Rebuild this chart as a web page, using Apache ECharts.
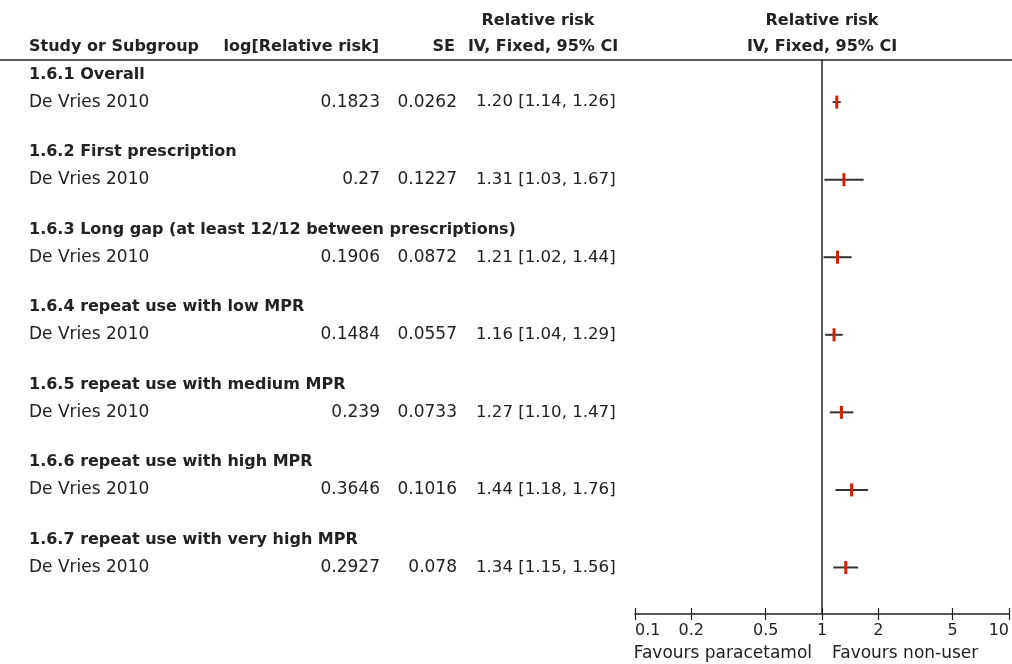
<!DOCTYPE html>
<html>
<head>
<meta charset="utf-8">
<script src="https://cdn.jsdelivr.net/npm/echarts@6/dist/echarts.min.js"></script>
<style>
html,body{margin:0;padding:0;background:#fff;}
#chart{width:1012px;height:664px;}
</style>
</head>
<body>
<div id="chart"></div>
<script>
// ---- data ----
const subgroups = [
  '1.6.1 Overall',
  '1.6.2 First prescription',
  '1.6.3 Long gap (at least 12/12 between prescriptions)',
  '1.6.4 repeat use with low MPR',
  '1.6.5 repeat use with medium MPR',
  '1.6.6 repeat use with high MPR',
  '1.6.7 repeat use with very high MPR'
];
const studies = ['De Vries 2010','De Vries 2010','De Vries 2010','De Vries 2010','De Vries 2010','De Vries 2010','De Vries 2010'];
const logRR = [0.1823, 0.27, 0.1906, 0.1484, 0.239, 0.3646, 0.2927];
const se = [0.0262, 0.1227, 0.0872, 0.0557, 0.0733, 0.1016, 0.078];
const rr = [1.20, 1.31, 1.21, 1.16, 1.27, 1.44, 1.34];
const lower = [1.14, 1.03, 1.02, 1.04, 1.10, 1.18, 1.15];
const upper = [1.26, 1.67, 1.44, 1.29, 1.47, 1.76, 1.56];
const xTicks = [0.1, 0.2, 0.5, 1, 2, 5, 10];
const leftLabel = 'Favours paracetamol';
const rightLabel = 'Favours non-user';

// ---- layout (row units on hidden y axis) ----
const FIRST = 0.52, STEP = 2.8, STUDY_OFF = 1.0, YMAX = 20;
const FONT = 'DejaVu Sans';
const TXT = '#222';

const headerY = subgroups.map((s, i) => FIRST + i * STEP);
const studyY = subgroups.map((s, i) => FIRST + i * STEP + STUDY_OFF);

const tableData = [];
subgroups.forEach((s, i) => {
  tableData.push({value: [1, headerY[i]], kind: 'h', idx: i});
  tableData.push({value: [1, studyY[i]], kind: 's', idx: i});
});
const forestData = rr.map((v, i) => [lower[i], upper[i], v, studyY[i]]);

const chart = echarts.init(document.getElementById('chart'));

function txt(x, y, text, align, bold, size) {
  return {
    type: 'text', x: x, y: y,
    style: {
      text: text, fill: TXT, align: align, verticalAlign: 'middle',
      font: (bold ? 'bold ' : '') + (size || 17) + 'px "' + FONT + '"'
    }
  };
}

chart.setOption({
  animation: false,
  grid: {left: 635, right: 3, top: 60, bottom: 50},
  xAxis: [{
    type: 'log', logBase: 10, min: 0.1, max: 10, position: 'bottom',
    axisLine: {show: true, onZero: false, lineStyle: {color: '#222', width: 1.5}},
    axisTick: {show: true, customValues: xTicks, length: 6, lineStyle: {color: '#222', width: 1.2}},
    axisLabel: {show: true, customValues: xTicks, margin: 9, color: TXT,
      fontFamily: FONT, fontSize: 16,
      alignMinLabel: 'left', alignMaxLabel: 'right',
      formatter: v => String(v)},
    splitLine: {show: false}, minorTick: {show: false}
  }, {
    type: 'log', logBase: 10, min: 0.1, max: 10, position: 'bottom', offset: 0,
    axisLine: {show: false, onZero: false},
    axisTick: {show: true, inside: true, customValues: xTicks, length: 6, lineStyle: {color: '#222', width: 1.2}},
    axisLabel: {show: false},
    splitLine: {show: false}
  }],
  yAxis: {type: 'value', min: 0, max: YMAX, inverse: true, show: false, splitLine: {show: false}},
  graphic: [
    {type: 'line', shape: {x1: 0, y1: 60, x2: 1012, y2: 60}, style: {stroke: '#222', lineWidth: 1.5}, z: 10},
    txt(538, 21, 'Relative risk', 'center', true, 16),
    txt(29, 47, 'Study or Subgroup', 'left', true, 16),
    txt(379, 47, 'log[Relative risk]', 'right', true, 16),
    txt(455, 47, 'SE', 'right', true, 16),
    txt(543, 47, 'IV, Fixed, 95% CI', 'center', true, 16),
    txt(822, 21, 'Relative risk', 'center', true, 16),
    txt(822, 47, 'IV, Fixed, 95% CI', 'center', true, 16),
    txt(812, 654, leftLabel, 'right', false, 17),
    txt(832, 654, rightLabel, 'left', false, 17)
  ],
  series: [{
    type: 'custom', name: 'table', clip: false, silent: true,
    coordinateSystem: 'cartesian2d',
    data: tableData,
    encode: {x: 0, y: 1},
    renderItem: function (params, api) {
      const item = tableData[params.dataIndex];
      const y = api.coord([1, api.value(1)])[1];
      const i = item.idx;
      if (item.kind === 'h') {
        return {type: 'group', children: [txt(29, y, subgroups[i], 'left', true, 16)]};
      }
      const ci = rr[i].toFixed(2) + ' [' + lower[i].toFixed(2) + ', ' + upper[i].toFixed(2) + ']';
      return {type: 'group', children: [
        txt(29, y, studies[i], 'left', false, 17),
        txt(380, y, String(logRR[i]), 'right', false, 17),
        txt(457, y, String(se[i]), 'right', false, 17),
        txt(476, y, ci, 'left', false, 16.6)
      ]};
    }
  }, {
    type: 'custom', name: 'forest', clip: false,
    coordinateSystem: 'cartesian2d',
    data: forestData,
    encode: {x: [0, 1, 2], y: 3},
    renderItem: function (params, api) {
      const y = api.value(3);
      const p0 = api.coord([api.value(0), y]);
      const p1 = api.coord([api.value(1), y]);
      const pm = api.coord([api.value(2), y]);
      return {type: 'group', children: [
        {type: 'line', shape: {x1: p0[0], y1: p0[1], x2: p1[0], y2: p1[1]},
          style: {stroke: '#333', lineWidth: 2}},
        {type: 'rect', shape: {x: pm[0] - 1.5, y: pm[1] - 6.5, width: 3, height: 13},
          style: {fill: '#d42000'}}
      ]};
    },
    markLine: {
      silent: true, symbol: ['none', 'none'], label: {show: false},
      lineStyle: {color: '#222', width: 1.5, type: 'solid'},
      data: [{xAxis: 1}]
    }
  }]
});
</script>
</body>
</html>
